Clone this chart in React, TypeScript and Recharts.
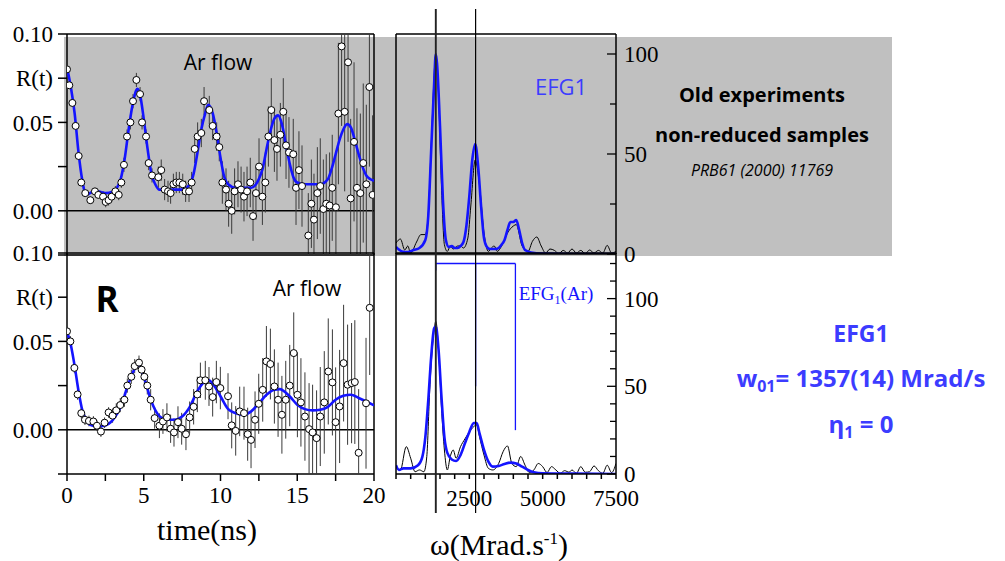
import React from "react";
import {
  ComposedChart,
  Line,
  Scatter,
  ErrorBar,
  XAxis,
  YAxis,
  ReferenceLine,
} from "recharts";

// ---- time spectra, top panel (old experiments, grey) ----
const topTime = [0, 0.15, 0.35, 0.56, 0.76, 0.93, 1.19, 1.52, 1.82, 2.04, 2.35, 2.52, 2.71, 2.91, 3.15, 3.37, 3.54, 3.71, 3.91, 4.13, 4.3, 4.52, 4.76, 4.89, 5.15, 5.32, 5.54, 5.95, 6.14, 6.36, 6.58, 6.75, 6.93, 7.12, 7.32, 7.54, 7.73, 7.95, 8.12, 8.32, 8.51, 8.75, 8.93, 9.27, 9.49, 9.75, 9.92, 10.12, 10.36, 10.53, 10.73, 10.92, 11.14, 11.34, 11.53, 11.73, 11.94, 12.12, 12.31, 12.51, 12.73, 12.92, 13.12, 13.31, 13.51, 13.68, 13.9, 14.09, 14.27, 14.46, 14.74, 14.92, 15.11, 15.31, 15.72, 15.92, 16.09, 16.31, 16.5, 16.7, 16.89, 17.11, 17.28, 17.52, 17.68, 17.89, 18.09, 18.31, 18.48, 18.7, 18.89, 19.11, 19.3, 19.5, 19.7, 19.91];
const topR = [0.08, 0.071, 0.061, 0.048, 0.031, 0.016, 0.01, 0.006, 0.011, 0.009, 0.008, 0.005, 0.006, 0.008, 0.011, 0.009, 0.016, 0.026, 0.042, 0.05, 0.062, 0.074, 0.066, 0.05, 0.042, 0.027, 0.02, 0.019, 0.023, 0.012, 0.011, 0.01, 0.015, 0.016, 0.016, 0.015, 0.011, 0.011, 0.016, 0.035, 0.042, 0.044, 0.062, 0.057, 0.048, 0.042, 0.036, 0.016, 0.012, 0.004, 0.0, 0.011, 0.015, 0.012, 0.008, 0.011, 0.016, -0.003, 0.01, 0.025, 0.008, 0.016, 0.042, 0.057, 0.04, 0.035, 0.043, 0.056, 0.037, 0.033, 0.032, 0.013, 0.023, 0.014, -0.014, 0.004, -0.005, 0.01, 0.014, 0.001, 0.004, 0.003, 0.013, 0.002, 0.055, 0.093, 0.056, 0.084, 0.007, 0.039, 0.013, 0.01, 0.027, 0.015, 0.07, 0.009];
const topErr = [0.002, 0.002, 0.002, 0.002, 0.002, 0.002, 0.002, 0.002, 0.002, 0.002, 0.003, 0.003, 0.003, 0.003, 0.003, 0.003, 0.003, 0.004, 0.004, 0.004, 0.004, 0.004, 0.004, 0.004, 0.004, 0.004, 0.004, 0.006, 0.006, 0.006, 0.006, 0.006, 0.006, 0.006, 0.006, 0.006, 0.006, 0.006, 0.006, 0.008, 0.008, 0.008, 0.008, 0.008, 0.008, 0.008, 0.008, 0.012, 0.012, 0.013, 0.013, 0.013, 0.013, 0.013, 0.014, 0.014, 0.014, 0.014, 0.015, 0.016, 0.016, 0.017, 0.017, 0.018, 0.018, 0.018, 0.018, 0.019, 0.019, 0.02, 0.02, 0.021, 0.022, 0.023, 0.024, 0.025, 0.026, 0.026, 0.027, 0.028, 0.028, 0.03, 0.03, 0.032, 0.04, 0.045, 0.045, 0.045, 0.045, 0.045, 0.045, 0.045, 0.045, 0.045, 0.045, 0.045];
const topFitTime = [0, 0.25, 0.5, 0.75, 1, 1.25, 1.5, 1.75, 2, 2.5, 3, 3.25, 3.5, 3.75, 4, 4.25, 4.5, 4.6, 4.75, 5, 5.25, 5.5, 5.75, 6, 6.5, 7, 7.5, 8, 8.25, 8.5, 8.75, 9, 9.2, 9.5, 9.75, 10, 10.25, 10.5, 11, 11.5, 12, 12.5, 12.75, 13, 13.25, 13.5, 13.75, 14, 14.25, 14.5, 14.75, 15, 15.5, 16, 16.5, 17, 17.25, 17.5, 17.75, 18, 18.25, 18.5, 18.75, 19, 19.25, 19.5, 19.75, 20];
const topFitR = [0.081, 0.07, 0.055, 0.033, 0.017, 0.009, 0.01, 0.011, 0.011, 0.01, 0.011, 0.013, 0.018, 0.029, 0.045, 0.059, 0.068, 0.069, 0.066, 0.052, 0.035, 0.021, 0.015, 0.012, 0.012, 0.012, 0.012, 0.015, 0.021, 0.033, 0.046, 0.055, 0.06, 0.055, 0.044, 0.03, 0.019, 0.015, 0.013, 0.013, 0.013, 0.018, 0.024, 0.035, 0.045, 0.052, 0.054, 0.049, 0.038, 0.027, 0.019, 0.016, 0.015, 0.015, 0.015, 0.018, 0.024, 0.032, 0.04, 0.046, 0.049, 0.047, 0.04, 0.032, 0.025, 0.02, 0.018, 0.017];

// ---- time spectra, bottom panel (reduced) ----
const botTime = [0, 0.22, 0.48, 0.69, 0.93, 1.17, 1.43, 1.72, 1.95, 2.21, 2.45, 2.71, 2.97, 3.21, 3.47, 3.74, 3.93, 4.19, 4.41, 4.69, 4.86, 5.04, 5.23, 5.45, 5.71, 6.02, 6.25, 6.51, 6.75, 6.97, 7.23, 7.47, 7.75, 7.99, 8.25, 8.49, 8.69, 9.01, 9.25, 9.49, 9.73, 9.99, 10.49, 10.73, 10.99, 11.25, 11.53, 11.77, 11.99, 12.25, 12.49, 12.75, 12.99, 13.25, 13.51, 13.75, 14.0, 14.25, 14.51, 14.77, 15.01, 15.24, 15.5, 15.77, 16.0, 16.26, 16.5, 16.76, 17.02, 17.29, 17.5, 17.76, 18.02, 18.28, 18.54, 18.75, 19.0, 19.48, 19.72];
const botR = [0.0557, 0.05, 0.035, 0.02, 0.0094, 0.0057, 0.005, 0.0047, 0.0023, -0.001, 0.004, 0.0098, 0.008, 0.011, 0.014, 0.017, 0.025, 0.03, 0.036, 0.038, 0.034, 0.03, 0.025, 0.017, 0.0066, 0.0023, 0.0047, 0.007, 0.0006, -0.0015, 0.0043, 0.0006, -0.0025, 0.007, 0.013, 0.02, 0.028, 0.028, 0.0245, 0.0185, 0.027, 0.0236, 0.019, 0.0025, -0.0006, 0.0104, 0.0094, -0.0025, -0.0057, 0.0057, 0.0147, 0.0226, 0.0387, 0.0372, 0.0245, 0.017, 0.0085, 0.017, 0.025, 0.0434, 0.0198, 0.0155, 0.0075, 0.0004, -0.0015, -0.0047, 0.0075, 0.0155, 0.033, 0.0268, 0.0043, 0.0132, 0.0377, 0.0255, 0.0264, 0.027, -0.013, 0.015, 0.069];
const botErr = [0.003, 0.003, 0.003, 0.003, 0.003, 0.003, 0.003, 0.003, 0.003, 0.003, 0.003, 0.003, 0.004, 0.004, 0.004, 0.004, 0.004, 0.004, 0.004, 0.004, 0.005, 0.005, 0.005, 0.006, 0.006, 0.007, 0.007, 0.008, 0.008, 0.008, 0.009, 0.009, 0.009, 0.009, 0.01, 0.01, 0.01, 0.011, 0.011, 0.011, 0.012, 0.012, 0.013, 0.013, 0.014, 0.014, 0.015, 0.015, 0.016, 0.016, 0.017, 0.018, 0.02, 0.02, 0.021, 0.021, 0.022, 0.022, 0.023, 0.023, 0.024, 0.025, 0.025, 0.026, 0.027, 0.027, 0.028, 0.029, 0.03, 0.03, 0.031, 0.032, 0.033, 0.034, 0.034, 0.035, 0.036, 0.037, 0.038];
const botFitTime = [0, 0.25, 0.5, 0.75, 1, 1.25, 1.5, 2, 2.5, 3, 3.5, 4, 4.5, 4.6, 5, 5.5, 6, 6.5, 7, 7.5, 8, 8.5, 9, 9.25, 9.5, 10, 10.5, 11, 11.5, 12, 12.5, 13, 13.5, 13.85, 14.5, 15, 15.5, 16, 16.5, 17, 17.5, 18, 18.5, 19, 19.5, 20];
const botFitR = [0.0557, 0.048, 0.036, 0.022, 0.011, 0.0053, 0.0028, 0.0019, 0.0025, 0.0057, 0.013, 0.026, 0.036, 0.037, 0.03, 0.016, 0.0079, 0.0057, 0.0057, 0.0075, 0.013, 0.022, 0.0274, 0.028, 0.026, 0.019, 0.0117, 0.0094, 0.0085, 0.0104, 0.015, 0.0198, 0.0226, 0.023, 0.019, 0.0142, 0.0117, 0.011, 0.0113, 0.013, 0.017, 0.0192, 0.0198, 0.018, 0.016, 0.0138];

// ---- Fourier spectra ----
const fftTopFitW = [0, 200, 400, 600, 800, 1000, 1100, 1200, 1300, 1357, 1400, 1500, 1600, 1700, 1800, 1900, 2000, 2100, 2200, 2300, 2400, 2500, 2600, 2700, 2800, 2900, 3000, 3100, 3200, 3300, 3400, 3500, 3600, 3700, 3800, 3900, 4000, 4100, 4200, 4300, 4400, 4600, 5000, 6000, 7500];
const fftTopFit = [3.5, 1.3, 1, 2, 3, 7, 19, 52, 85, 100, 95, 64, 27, 7, 3.5, 4, 3, 3, 4, 6, 14, 29, 47, 55, 44, 24, 8, 3.5, 2.5, 2.5, 2.5, 3, 4.7, 7, 12, 16, 16, 17, 12, 5.5, 2, 0.8, 0.2, 0, 0];
const fftTopExpW = [0, 150, 300, 400, 500, 700, 850, 1000, 1100, 1200, 1357, 1450, 1550, 1650, 1750, 1850, 1950, 2100, 2200, 2300, 2450, 2550, 2700, 2850, 3000, 3150, 3250, 3350, 3450, 3600, 3800, 4000, 4100, 4300, 4500, 4650, 4800, 4950, 5100, 5250, 5400, 5550, 5700, 5850, 6000, 6150, 6300, 6450, 6600, 6750, 6900, 7050, 7200, 7350, 7500];
const fftTopExp = [5.5, 7.5, 2, 4, 0.5, 6, 9.7, 9.7, 20, 54, 99, 80, 34, 4.7, 1.3, 4, 2.5, 4, 4, 3, 8, 24, 47, 34, 10.5, 1.3, 3, 4, 1.3, 4, 10.5, 14, 14.7, 4, 1.3, 6.3, 8.5, 4, 0.5, 2.5, 1.8, 0.2, 1.8, 0.5, 2.5, 0.5, 1.8, 0.2, 2, 0.5, 1.8, 0.5, 4.3, 0.5, 1.3];
const fftBotFitW = [0, 100, 250, 500, 750, 900, 1000, 1100, 1200, 1300, 1357, 1450, 1550, 1650, 1750, 1900, 2050, 2200, 2350, 2500, 2650, 2750, 2850, 3000, 3150, 3300, 3500, 3700, 3900, 4100, 4300, 4500, 4700, 5000, 6000, 7500];
const fftBotFit = [5, 2.3, 3.2, 3.2, 5, 9.9, 21, 42, 67, 83, 84, 71, 44, 21, 12, 8.3, 7.4, 10.8, 17.5, 24, 29, 29, 23, 13.7, 7, 4.2, 4.6, 5.7, 6.5, 6, 4.2, 2.3, 1, 0.4, 0.2, 0];
const fftBotExpW = [0, 150, 350, 500, 650, 800, 950, 1050, 1150, 1300, 1357, 1450, 1550, 1650, 1750, 1850, 1950, 2050, 2200, 2350, 2500, 2650, 2750, 2850, 3000, 3150, 3300, 3500, 3650, 3800, 3950, 4100, 4250, 4400, 4550, 4700, 4850, 5000, 5150, 5300, 5450, 5600, 5750, 5900, 6000, 6150, 6300, 6450, 6600, 6750, 6900, 7050, 7200, 7350, 7500];
const fftBotExp = [4.2, 2.3, 15.6, 9, 1.3, 2.3, 1.3, 10, 48, 82, 87, 71, 38, 13.7, 2.3, 10, 13.7, 9, 15.6, 20, 24, 27, 28, 21, 10.8, 3.2, 2.3, 6, 12.7, 16, 6, 4.2, 10, 5, 0.8, 2.3, 6, 4.2, 0.8, 4.2, 2.3, 0.4, 1.9, 1, 2.3, 0.4, 4.2, 1, 1.3, 4.6, 1.9, 0.4, 5, 0.8, 6];

// EFG1 triplet (w01, 2w01, 3w01) and the stick heights of the bracket
const efgFreqs = [1357, 2714, 4071];
const efgSticks = [116, 50, 25];
const efgBar = 120;

const timeTicks = [0, 2.5, 5, 7.5, 10, 12.5, 15, 17.5, 20];
const rTicks = [-0.025, 0, 0.025, 0.05, 0.075, 0.1];
const wTicks = [0, 500, 1000, 1500, 2000, 2500, 3000, 3500, 4000, 4500, 5000, 5500, 6000, 6500, 7000, 7500];
const topAmpTicks = [0, 25, 50, 75, 100];
const botAmpTicks = [0, 10, 20, 30, 40, 50, 60, 70, 80, 90, 100, 110, 120];

const BLUE = "#1414ff";
const TXT_BLUE = "#3c3cff";
const SERIF = "'Liberation Serif', 'Times New Roman', serif";
const COMIC = "'Comic Sans MS', 'Open Sans', sans-serif";
const W = 1005;
const H = 561;
// time panels: plot spans x 67..374
const TL = 67;
const TR = 374;

const points = (t: number[], r: number[], e: number[]) =>
  t.map((x, i) => ({ t: x, r: r[i], e: e[i] }));
const curve = (t: number[], r: number[]) => t.map((x, i) => ({ t: x, r: r[i] }));
const spec = (w: number[], v: number[]) => w.map((x, i) => ({ w: x, v: v[i] }));

const tickFont = { fill: "#000", fontSize: 23, fontFamily: SERIF };
const abs: React.CSSProperties = { position: "absolute", left: 0, top: 0 };

const fmtR = (v: number) =>
  v === 0.075 ? "R(t)" : v === 0.025 || v === -0.025 ? "" : v.toFixed(2);
const fmtT = (v: number) => (v % 5 === 0 ? String(v) : "");
const fmtW = (v: number) => (v > 0 && v % 2500 === 0 ? String(v) : "");

const OpenDot = (p: any) => (
  <circle cx={p.cx} cy={p.cy} r={3.5} fill="#fff" stroke="#000" strokeWidth={1} />
);

// right axis of the spectra: ticks inside, labels outside
const RightTick = (p: any) => {
  const v = p.payload.value;
  const major = v % 50 === 0;
  return (
    <g>
      <line x1={p.x - (major ? 9 : 6)} x2={p.x} y1={p.y} y2={p.y} stroke="#000" strokeWidth={1.3} />
      {major && (
        <text x={p.x + 8} y={p.y} dy="0.35em" textAnchor="start" fontSize={23} fontFamily={SERIF} fill="#000">
          {v}
        </text>
      )}
    </g>
  );
};

function TimePanel({ pts, fit, top, bottom, showX }: any) {
  const margin = { top, right: W - TR, bottom: H - bottom, left: TL };
  return (
    <>
      {/* axes, frame and zero line */}
      <div style={abs}>
        <ComposedChart width={W} height={H} data={fit}
          margin={{ top, right: W - TR, bottom: H - bottom - 40, left: 0 }}>
          <XAxis xAxisId="b" type="number" dataKey="t" domain={[0, 20]} ticks={timeTicks} allowDataOverflow
            interval={0} height={40} tickSize={7} tickMargin={6} tick={showX ? tickFont : false}
            tickFormatter={fmtT} stroke="#000" strokeWidth={1.5} />
          <XAxis xAxisId="t" orientation="top" mirror type="number" dataKey="t" domain={[0, 20]} ticks={timeTicks}
            allowDataOverflow interval={0} tick={false} tickSize={6} stroke="#000" strokeWidth={1.5} />
          <YAxis yAxisId="l" type="number" dataKey="r" domain={[-0.025, 0.1]} ticks={rTicks} allowDataOverflow
            interval={0} width={TL} tickSize={9} tickMargin={5} tick={tickFont} tickFormatter={fmtR}
            stroke="#000" strokeWidth={1.5} />
          <YAxis yAxisId="r" orientation="right" mirror type="number" dataKey="r" domain={[-0.025, 0.1]}
            ticks={rTicks} allowDataOverflow interval={0} tick={false} tickSize={7} stroke="#000" strokeWidth={1.5} />
          <ReferenceLine xAxisId="b" yAxisId="l" y={0} stroke="#000" strokeWidth={1.6} />
        </ComposedChart>
      </div>
      {/* data layer, clipped to the plot frame */}
      <div style={{ position: "absolute", left: TL, top, width: TR - TL, height: bottom - top, overflow: "hidden" }}>
        <div style={{ position: "absolute", left: -TL, top: -top }}>
          <ComposedChart width={W} height={H} margin={margin}>
            <XAxis type="number" dataKey="t" domain={[0, 20]} allowDataOverflow hide />
            <YAxis type="number" dataKey="r" domain={[-0.025, 0.1]} allowDataOverflow hide />
            <Scatter data={pts} dataKey="r" shape={OpenDot} isAnimationActive={false}>
              <ErrorBar dataKey="e" direction="y" width={0} stroke="#3a3a3a" strokeWidth={1} />
            </Scatter>
            <Line data={fit} dataKey="r" type="monotone" stroke={BLUE} strokeWidth={2.6}
              dot={false} isAnimationActive={false} />
          </ComposedChart>
        </div>
      </div>
    </>
  );
}

function FreqPanel({ exp, fit, top, bottom, yMax, yTicks, showX, bracket }: any) {
  return (
    <div style={abs}>
      <ComposedChart width={W} height={H} margin={{ top, right: W - 616 - 60, bottom: H - bottom - 40, left: 396 }}>
        <XAxis xAxisId="b" type="number" dataKey="w" domain={[0, 7500]} ticks={wTicks} allowDataOverflow
          interval={0} height={40} tickSize={5} tickMargin={11} tick={showX ? tickFont : false} tickFormatter={fmtW}
          stroke="#000" strokeWidth={1.5} />
        <XAxis xAxisId="t" orientation="top" mirror type="number" dataKey="w" domain={[0, 7500]} ticks={wTicks}
          allowDataOverflow interval={0} tick={false} tickSize={6} stroke="#000" strokeWidth={1.5} />
        <YAxis yAxisId="l" mirror type="number" dataKey="v" domain={[0, yMax]} ticks={yTicks} allowDataOverflow
          interval={0} tick={false} tickSize={7} stroke="#000" strokeWidth={1.5} />
        <YAxis yAxisId="r" orientation="right" type="number" dataKey="v" domain={[0, yMax]} ticks={yTicks}
          allowDataOverflow interval={0} width={60} tickSize={0} tickMargin={0} tickLine={false} tick={RightTick}
          stroke="#000" strokeWidth={1.5} />
        <Line xAxisId="b" yAxisId="l" data={exp} dataKey="v" type="monotone" stroke="#000" strokeWidth={1}
          dot={false} isAnimationActive={false} />
        <Line xAxisId="b" yAxisId="l" data={fit} dataKey="v" type="monotone" stroke={BLUE} strokeWidth={2.6}
          dot={false} isAnimationActive={false} />
        {bracket && (
          <ReferenceLine xAxisId="b" yAxisId="l" stroke={BLUE} strokeWidth={1.3}
            segment={[{ x: efgFreqs[0], y: efgBar }, { x: efgFreqs[efgFreqs.length - 1], y: efgBar }]} />
        )}
        {bracket &&
          efgFreqs.map((f, i) => (
            <ReferenceLine key={f} xAxisId="b" yAxisId="l" stroke={BLUE} strokeWidth={1.3}
              segment={[{ x: f, y: efgBar }, { x: f, y: efgSticks[i] }]} />
          ))}
      </ComposedChart>
    </div>
  );
}

// the two long vertical markers at w01 and 2*w01 crossing both spectra
function Markers() {
  return (
    <div style={abs}>
      <ComposedChart width={W} height={H} data={efgFreqs.map((w) => ({ w, v: 0 }))}
        margin={{ top: 9, right: W - 616, bottom: H - 513, left: 396 }}>
        <XAxis type="number" dataKey="w" domain={[0, 7500]} hide />
        <YAxis type="number" dataKey="v" domain={[0, 1]} hide />
        <ReferenceLine x={efgFreqs[0]} stroke="#222" strokeWidth={1.9} />
        <ReferenceLine x={efgFreqs[1]} stroke="#000" strokeWidth={1.2} />
      </ComposedChart>
    </div>
  );
}

const Txt = ({ x, y, size, children, style }: any) => (
  <div style={{ position: "absolute", left: x, top: y, transform: "translate(-50%, -50%)", fontSize: size,
    lineHeight: 1, whiteSpace: "nowrap", ...style }}>
    {children}
  </div>
);

export default function App() {
  return (
    <div style={{ position: "absolute", left: 0, top: 0, width: W, height: H, background: "#fff", overflow: "hidden" }}>
      <div style={{ position: "absolute", left: 64, top: 37, width: 828, height: 219, background: "#c0c0c0" }} />

      <TimePanel pts={points(topTime, topR, topErr)} fit={curve(topFitTime, topFitR)} top={34} bottom={255} showX={false} />
      <TimePanel pts={points(botTime, botR, botErr)} fit={curve(botFitTime, botFitR)} top={253} bottom={474} showX />
      <FreqPanel exp={spec(fftTopExpW, fftTopExp)} fit={spec(fftTopFitW, fftTopFit)} top={34} bottom={254}
        yMax={110} yTicks={topAmpTicks} showX={false} />
      <FreqPanel exp={spec(fftBotExpW, fftBotExp)} fit={spec(fftBotFitW, fftBotFit)} top={253} bottom={474}
        yMax={126} yTicks={botAmpTicks} showX bracket />
      <Markers />

      <Txt x={218} y={62} size={21} style={{ fontFamily: COMIC }}>Ar flow</Txt>
      <Txt x={307} y={288} size={21} style={{ fontFamily: COMIC }}>Ar flow</Txt>
      <Txt x={107} y={298} size={35} style={{ fontFamily: COMIC, fontWeight: 700 }}>R</Txt>
      <Txt x={561} y={86} size={22} style={{ fontFamily: COMIC, color: TXT_BLUE }}>EFG1</Txt>
      <Txt x={762} y={95} size={20} style={{ fontFamily: COMIC, fontWeight: 700 }}>Old experiments</Txt>
      <Txt x={762} y={135} size={20} style={{ fontFamily: COMIC, fontWeight: 700 }}>non-reduced samples</Txt>
      <Txt x={762} y={170} size={16} style={{ fontFamily: COMIC, fontStyle: "italic" }}>PRB61 (2000) 11769</Txt>
      <Txt x={556} y={295} size={19} style={{ fontFamily: SERIF, color: BLUE }}>
        EFG<sub style={{ fontSize: 12 }}>1</sub>(Ar)
      </Txt>
      <Txt x={861} y={333} size={23} style={{ fontFamily: COMIC, fontWeight: 700, color: TXT_BLUE }}>EFG1</Txt>
      <Txt x={861} y={380} size={24} style={{ fontFamily: COMIC, fontWeight: 700, color: TXT_BLUE }}>
        w<sub style={{ fontSize: 16 }}>01</sub>= 1357(14) Mrad/s
      </Txt>
      <Txt x={861} y={426} size={24} style={{ fontFamily: COMIC, fontWeight: 700, color: TXT_BLUE }}>
        &eta;<sub style={{ fontSize: 16 }}>1</sub> = 0
      </Txt>
      <Txt x={207} y={530} size={30} style={{ fontFamily: SERIF }}>time(ns)</Txt>
      <Txt x={499} y={545} size={30} style={{ fontFamily: SERIF }}>
        &omega;(Mrad.s<sup style={{ fontSize: 17 }}>-1</sup>)
      </Txt>
    </div>
  );
}
